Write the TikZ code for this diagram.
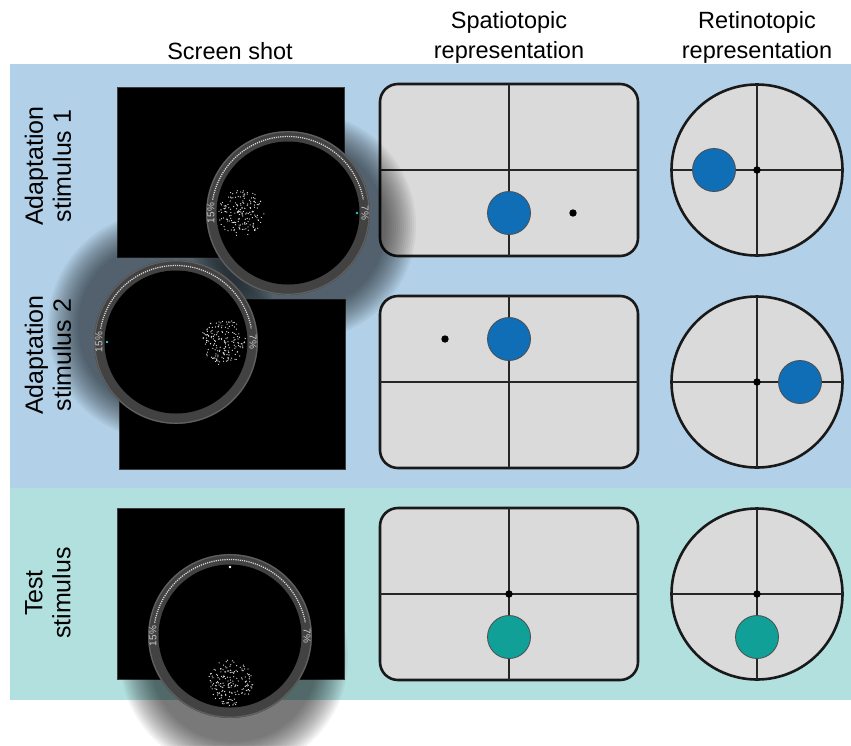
\documentclass[tikz,border=0pt]{standalone}
\usepackage{fontspec}
\setmainfont{Liberation Sans}
\usetikzlibrary{calc}

\definecolor{bandblue}{RGB}{178,208,231}
\definecolor{bandteal}{RGB}{178,224,223}
\definecolor{panelgray}{RGB}{218,218,218}
\definecolor{spotblue}{RGB}{16,110,182}
\definecolor{spotteal}{RGB}{17,160,152}
\definecolor{ringgray}{RGB}{66,66,66}
\definecolor{ringrim}{RGB}{96,96,96}
\definecolor{fixcyan}{RGB}{40,200,210}

\tikzset{
  header/.style={font=\fontsize{23.5}{30}\selectfont, align=center, inner sep=0},
  rowlabel/.style={font=\fontsize{25}{28}\selectfont, align=center, rotate=90, inner sep=0},
  screen/.style={fill=black, draw={rgb,255:red,60;green,60;blue,60}, line width=0.8},
  spatbox/.style={fill=panelgray, draw=black!90, line width=2.6, rounded corners=18},
  retcircle/.style={fill=panelgray, draw=black!90, line width=2.6},
  crossline/.style={draw=black!85, line width=1.8},
  spot/.style={draw=black!70, line width=0.8},
  eyedot/.style={fill=black},
  pct/.style={font=\fontsize{10}{10}\selectfont, text=white!80!black, inner sep=0},
}

% soft drop shadow of a magnifier lens
\newcommand\lensshadow[1]{%
  \foreach \k in {0,...,15}{
    \fill[black, fill opacity=0.045] (#1) circle[radius=114-2*\k];
  }%
}

% magnifier lens: #1 centre, #2 direction of the dot patch,
% #3 direction of the fixation point, #4 fixation colour
\newcommand\lensview[4]{%
  \fill[ringgray] (#1) circle[radius=82];
  \draw[ringrim, line width=1.2] (#1) circle[radius=81.2];
  \fill[black] (#1) circle[radius=71.5];
  \draw[white!85!black, line width=1.2, dash pattern=on 1.2 off 1]
    ([shift={(190:76.5)}]#1) arc[start angle=190, end angle=350, radius=76.5];
  \node[pct, rotate=90] at ([shift={(180:77)}]#1) {15\%};
  \node[pct, rotate=-90] at ([shift={(0:77)}]#1) {7\%};
  \foreach \k in {1,...,170}{
    \pgfmathsetmacro\ang{360*rnd}
    \pgfmathsetmacro\rad{23*sqrt(rnd)}
    \fill[white!90!black] ([shift={(#2:47)}]#1) ++(\ang:\rad) circle[radius=0.65];
  }
  \fill[#4] ([shift={(#3:69)}]#1) circle[radius=1.4];
}

\begin{document}
\begin{tikzpicture}[x=1pt, y=-1pt]
\pgfmathsetseed{11}
\useasboundingbox (0,0) rectangle (851,745);
\fill[white] (0,0) rectangle (851,745);

% background bands
\fill[bandblue] (10,64) rectangle (851,488);
\fill[bandteal] (10,488) rectangle (851,700);

% column headers
\node[header] (hscreen) at (230,51) {Screen shot};
\node[header] (hspat) at (509,37.5) {Spatiotopic\\representation};
\node[header] (hret) at (757,37.5) {Retinotopic\\representation};

% row labels
\node[rowlabel] (lab1) at (48,166) {Adaptation\\stimulus 1};
\node[rowlabel] (lab2) at (48,355) {Adaptation\\stimulus 2};
\node[rowlabel] (lab3) at (48,593) {Test\\stimulus};

% screen shots
\draw[screen] (117,87) rectangle (344,257);
\draw[screen] (119,299) rectangle (345,469);
\draw[screen] (117,508) rectangle (344,679);

% spatiotopic panels
\draw[spatbox] (380,84) rectangle (638,256);
\draw[crossline] (380,170) -- (638,170) (509,84) -- (509,256);
\draw[spot, fill=spotblue] (509,213) circle[radius=21.5];
\fill[eyedot] (573,213) circle[radius=3.7];

\draw[spatbox] (380,296) rectangle (638,468);
\draw[crossline] (380,382) -- (638,382) (509,296) -- (509,468);
\draw[spot, fill=spotblue] (509,339) circle[radius=21.5];
\fill[eyedot] (445,339) circle[radius=3.7];

\draw[spatbox] (380,508) rectangle (638,680);
\draw[crossline] (380,594) -- (638,594) (509,508) -- (509,680);
\draw[spot, fill=spotteal] (509,637) circle[radius=21.5];
\fill[eyedot] (509,594) circle[radius=3.7];

% retinotopic panels
\draw[retcircle] (757,170) circle[radius=85.5];
\draw[crossline] (671.5,170) -- (842.5,170) (757,84.5) -- (757,255.5);
\draw[spot, fill=spotblue] (714,170) circle[radius=21.5];
\fill[eyedot] (757,170) circle[radius=3.7];

\draw[retcircle] (757,382) circle[radius=85.5];
\draw[crossline] (671.5,382) -- (842.5,382) (757,296.5) -- (757,467.5);
\draw[spot, fill=spotblue] (800,382) circle[radius=21.5];
\fill[eyedot] (757,382) circle[radius=3.7];

\draw[retcircle] (757,594) circle[radius=85.5];
\draw[crossline] (671.5,594) -- (842.5,594) (757,508.5) -- (757,679.5);
\draw[spot, fill=spotteal] (757,637) circle[radius=21.5];
\fill[eyedot] (757,594) circle[radius=3.7];

% magnifier lenses with their shadows
\coordinate (L1) at (288,213);
\coordinate (L2) at (176,342);
\coordinate (L3) at (230,636);
\coordinate (S1) at (302,226);
\coordinate (S2) at (162,326);
\coordinate (S3) at (234,658);
\lensshadow{S1}
\lensshadow{S2}
\lensshadow{S3}
\lensview{L2}{0}{180}{fixcyan}
\lensview{L1}{180}{0}{fixcyan}
\lensview{L3}{90}{270}{white}
\end{tikzpicture}
\end{document}
